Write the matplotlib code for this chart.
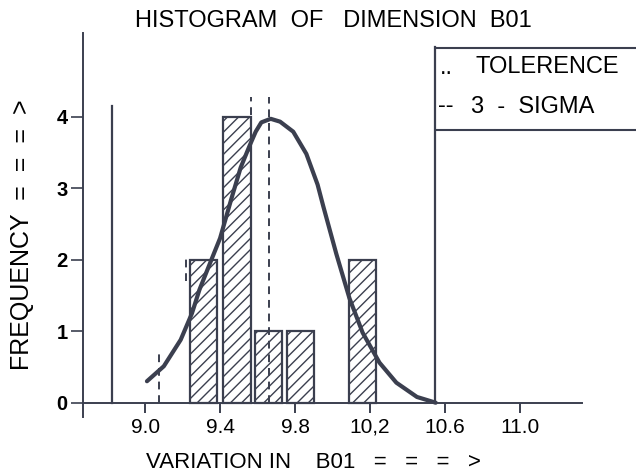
import numpy as np
import matplotlib.pyplot as plt
from matplotlib.lines import Line2D

plt.rcParams['font.family'] = ['Liberation Sans', 'DejaVu Sans']

# histogram bars (bin centres and counts)
bin_centres = [9.31, 9.49, 9.66, 9.83, 10.16]
counts = [2, 4, 1, 1, 2]
bar_width = 0.145

# fitted curve
curve_x = [9.01, 9.10, 9.19, 9.25, 9.29, 9.36, 9.40, 9.46, 9.51, 9.56, 9.59, 9.62,
           9.67, 9.72, 9.79, 9.86, 9.92, 9.95, 10.02, 10.09, 10.16, 10.25, 10.34,
           10.45, 10.55]
curve_y = [0.30, 0.51, 0.88, 1.25, 1.58, 2.04, 2.30, 2.85, 3.29, 3.61, 3.79, 3.92,
           3.97, 3.93, 3.79, 3.48, 3.05, 2.75, 2.08, 1.46, 0.98, 0.56, 0.28,
           0.08, 0.0]

# tolerance limits and 3-sigma marks
tol_x = [8.825, 10.545]
tol_top = [4.15, 4.97]
sigma_x = [9.566, 9.66, 9.217, 9.075]
sigma_lo = [4.03, 0.0, 1.7, 0.0]
sigma_hi = [4.28, 4.28, 2.05, 0.7]

xticks = [9.0, 9.4, 9.8, 10.2, 10.6, 11.0]
xtick_labels = ['9.0', '9.4', '9.8', '10,2', '10.6', '11.0']
yticks = [0, 1, 2, 3, 4]

ink = '#3b3f4f'
W, H = 636, 476

fig = plt.figure(figsize=(6.36, 4.76), dpi=100)
ax = fig.add_axes([83 / W, 1 - 417 / H, 499 / W, 384 / H])


def px_text(x, y, s, **kw):
    # place text by pixel position of the reference picture
    fig.text(x / W, 1 - y / H, s, **kw)


plt.rcParams['hatch.color'] = ink
plt.rcParams['hatch.linewidth'] = 1.0
ax.bar(bin_centres, counts, width=bar_width, facecolor='white', edgecolor=ink,
       linewidth=1.6, hatch='///', zorder=2)

ax.plot(curve_x, curve_y, color=ink, linewidth=3.0, solid_capstyle='round',
        solid_joinstyle='round', zorder=4)

for x, top in zip(tol_x, tol_top):
    ax.plot([x, x], [0, top], color=ink, linewidth=1.6, zorder=3)

for x, lo, hi in zip(sigma_x, sigma_lo, sigma_hi):
    ax.plot([x, x], [lo, hi], color=ink, linewidth=1.4, linestyle=(0, (4, 3)), zorder=3)

ax.set_xlim(8.669, 11.33)
ax.set_ylim(-0.2, 5.17)
ax.spines['top'].set_visible(False)
ax.spines['right'].set_visible(False)
ax.spines['bottom'].set_position(('data', 0))
for s in ['left', 'bottom']:
    ax.spines[s].set_color(ink)
    ax.spines[s].set_linewidth(1.4)

ax.set_xticks(xticks)
ax.set_xticklabels(xtick_labels, fontsize=15)
ax.set_yticks(yticks)
ax.set_yticklabels([str(t) for t in yticks], fontsize=14.5, fontweight='bold')
ax.tick_params(axis='x', direction='out', length=7, width=1.4, color=ink, pad=4)
ax.tick_params(axis='y', direction='out', length=9, width=1.2, color=ink, pad=2)

px_text(333, 21, 'HISTOGRAM  OF   DIMENSION  B01', ha='center', va='center', fontsize=17)
px_text(146, 463, 'VARIATION IN    B01   =   =   =   >', ha='left', va='center', fontsize=16)
px_text(22, 235, 'FREQUENCY  =  =  =  >', ha='center', va='center', rotation=90, fontsize=18)

# legend box joined to the upper tolerance line
x0 = 437 / W
fig.add_artist(Line2D([x0, 1.0], [1 - 48 / H] * 2, color=ink, linewidth=1.5))
fig.add_artist(Line2D([x0, 1.0], [1 - 130 / H] * 2, color=ink, linewidth=1.5))
px_text(440, 68, '..', ha='left', va='center', fontsize=17)
px_text(475, 67, 'TOLERENCE', ha='left', va='center', fontsize=17)
px_text(438, 106, '--', ha='left', va='center', fontsize=17)
px_text(471, 107, '3  -  SIGMA', ha='left', va='center', fontsize=17)

fig.savefig('out.png', dpi=100)
